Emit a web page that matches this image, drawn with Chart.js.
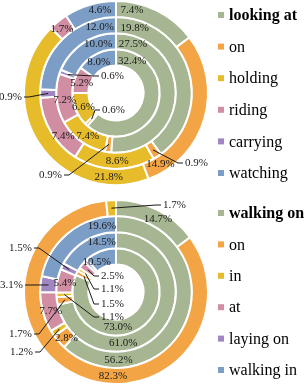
<!DOCTYPE html>
<html>
<head>
<meta charset="utf-8">
<script src="https://cdn.jsdelivr.net/npm/chart.js@4.4.1/dist/chart.umd.min.js"></script>
<style>
  html, body { margin: 0; padding: 0; background: #fff; }
  .wrap { position: absolute; left: 0; width: 308px; height: 186px; }
</style>
</head>
<body>
<div class="wrap" style="top:0"><canvas id="top-chart"></canvas></div>
<div class="wrap" style="top:199px"><canvas id="bottom-chart"></canvas></div>
<script>
// --- DATA ---
const topCategories = ['looking at', 'on', 'holding', 'riding', 'carrying', 'watching'];
const topOuter  = [7.4, 14.9, 21.8, 1.7, 0, 4.6];
const topRing2  = [19.8, 0.9, 8.6, 7.4, 0.9, 12.0];
const topRing3  = [27.5, 0.9, 7.4, 7.2, 0.6, 10.0];
const topInner  = [32.4, 0.6, 6.6, 5.2, 0, 8.0];

const bottomCategories = ['walking on', 'on', 'in', 'at', 'laying on', 'walking in'];
const bottomOuter = [14.7, 82.3, 1.7, 0, 0, 0];
const bottomRing2 = [56.2, 2.8, 1.2, 7.7, 3.1, 19.6];
const bottomRing3 = [61.0, 1.7, 1.1, 5.4, 1.5, 14.5];
const bottomInner = [73.0, 1.5, 1.1, 2.5, 1.1, 10.5];

const COLORS = ['#a6b692', '#f3a546', '#e6bc2a', '#d18ea3', '#a086c2', '#7c9dc5'];

// --- LABEL PLACEMENT (angle in degrees clockwise from top) ---
const topInside = {
    '0-0': 11, '0-1': 148, '0-2': 185, '0-3': 320, '0-5': 349,
    '1-0': 16, '1-2': 179, '1-3': 231, '1-5': 346,
    '2-0': 19, '2-2': 213, '2-3': 262, '2-5': 340,
    '3-0': 27, '3-2': 246, '3-3': 286, '3-5': 331
};
// [dx, dy from centre, text align]
const topCallouts = {
    '1-1': [69, 70, 'left'],
    '1-4': [-94, 4, 'right'],
    '2-1': [-54, 82, 'right'],
    '2-4': [-15, -17, 'left'],
    '3-1': [-14, 17, 'left']
};
const bottomInside = {
    '0-0': 30, '0-1': 182,
    '1-0': 178, '1-1': 227, '1-3': 254, '1-5': 348,
    '2-0': 172, '2-3': 280, '2-5': 344,
    '3-0': 177, '3-5': 327
};
const bottomCallouts = {
    '0-2': [47, -87, 'left'],
    '1-2': [-83, 60, 'right'],
    '1-4': [-93, -7, 'right'],
    '2-1': [-84, 42, 'right'],
    '2-2': [-15, 25, 'left'],
    '2-4': [-84, -44, 'right'],
    '3-1': [-15, 12, 'left'],
    '3-2': [-15, -3, 'left'],
    '3-3': [-15, -16, 'left']
};

function makeLabelPlugin(categories, inside, callouts, legendTop, legendGap) {
    return {
        id: 'ringLabels',
        afterDatasetsDraw(chart) {
            const ctx = chart.ctx;
            ctx.save();
            ctx.font = '11px "Liberation Serif"';
            ctx.fillStyle = '#1a1a1a';
            ctx.strokeStyle = '#1a1a1a';
            ctx.lineWidth = 1;
            ctx.textBaseline = 'middle';
            chart.data.datasets.forEach((ds, d) => {
                const meta = chart.getDatasetMeta(d);
                meta.data.forEach((arc, i) => {
                    const v = ds.data[i];
                    if (!v) return;
                    const text = v.toFixed(1) + '%';
                    const key = d + '-' + i;
                    const p = arc.getProps(['x', 'y', 'startAngle', 'endAngle', 'innerRadius', 'outerRadius'], true);
                    const rMid = (p.innerRadius + p.outerRadius) / 2;
                    if (inside[key] !== undefined) {
                        const a = (inside[key] - 90) * Math.PI / 180;
                        ctx.textAlign = 'center';
                        ctx.fillText(text, p.x + rMid * Math.cos(a), p.y + rMid * Math.sin(a));
                    } else if (callouts[key]) {
                        const [dx, dy, side] = callouts[key];
                        const am = (p.startAngle + p.endAngle) / 2;
                        const ax = p.x + rMid * Math.cos(am);
                        const ay = p.y + rMid * Math.sin(am);
                        const tx = p.x + dx, ty = p.y + dy;
                        const dir = side === 'left' ? 1 : -1;
                        ctx.beginPath();
                        ctx.moveTo(ax, ay);
                        ctx.lineTo(tx - dir * 7, ty);
                        ctx.lineTo(tx - dir * 2, ty);
                        ctx.stroke();
                        ctx.textAlign = side;
                        ctx.fillText(text, tx, ty);
                    }
                });
            });

            // legend
            ctx.textAlign = 'left';
            categories.forEach((c, i) => {
                const y = legendTop + i * legendGap;
                ctx.fillStyle = COLORS[i];
                ctx.fillRect(218, y - 3, 6, 6);
                ctx.fillStyle = '#000';
                ctx.font = (i === 0 ? 'bold ' : '') + '16px "Liberation Serif"';
                ctx.fillText(c, 229, y + 1);
            });
            ctx.restore();
        }
    };
}

function createRingChart(canvasId, categories, rings, inside, callouts, legendTop, legendGap) {
    const ctx = document.getElementById(canvasId).getContext('2d');
    return new Chart(ctx, {
        type: 'doughnut',
        data: {
            labels: categories,
            datasets: rings.map(r => ({
                data: r,
                backgroundColor: COLORS,
                borderColor: '#ffffff',
                borderWidth: 2
            }))
        },
        options: {
            responsive: true,
            maintainAspectRatio: false,
            animation: false,
            cutout: '30%',
            layout: { padding: { right: 76 } },
            plugins: { legend: { display: false }, tooltip: { enabled: false } }
        },
        plugins: [makeLabelPlugin(categories, inside, callouts, legendTop, legendGap)]
    });
}

createRingChart('top-chart', topCategories, [topOuter, topRing2, topRing3, topInner],
    topInside, topCallouts, 15, 31.6);
createRingChart('bottom-chart', bottomCategories, [bottomOuter, bottomRing2, bottomRing3, bottomInner],
    bottomInside, bottomCallouts, 14, 31.4);
</script>
</body>
</html>
